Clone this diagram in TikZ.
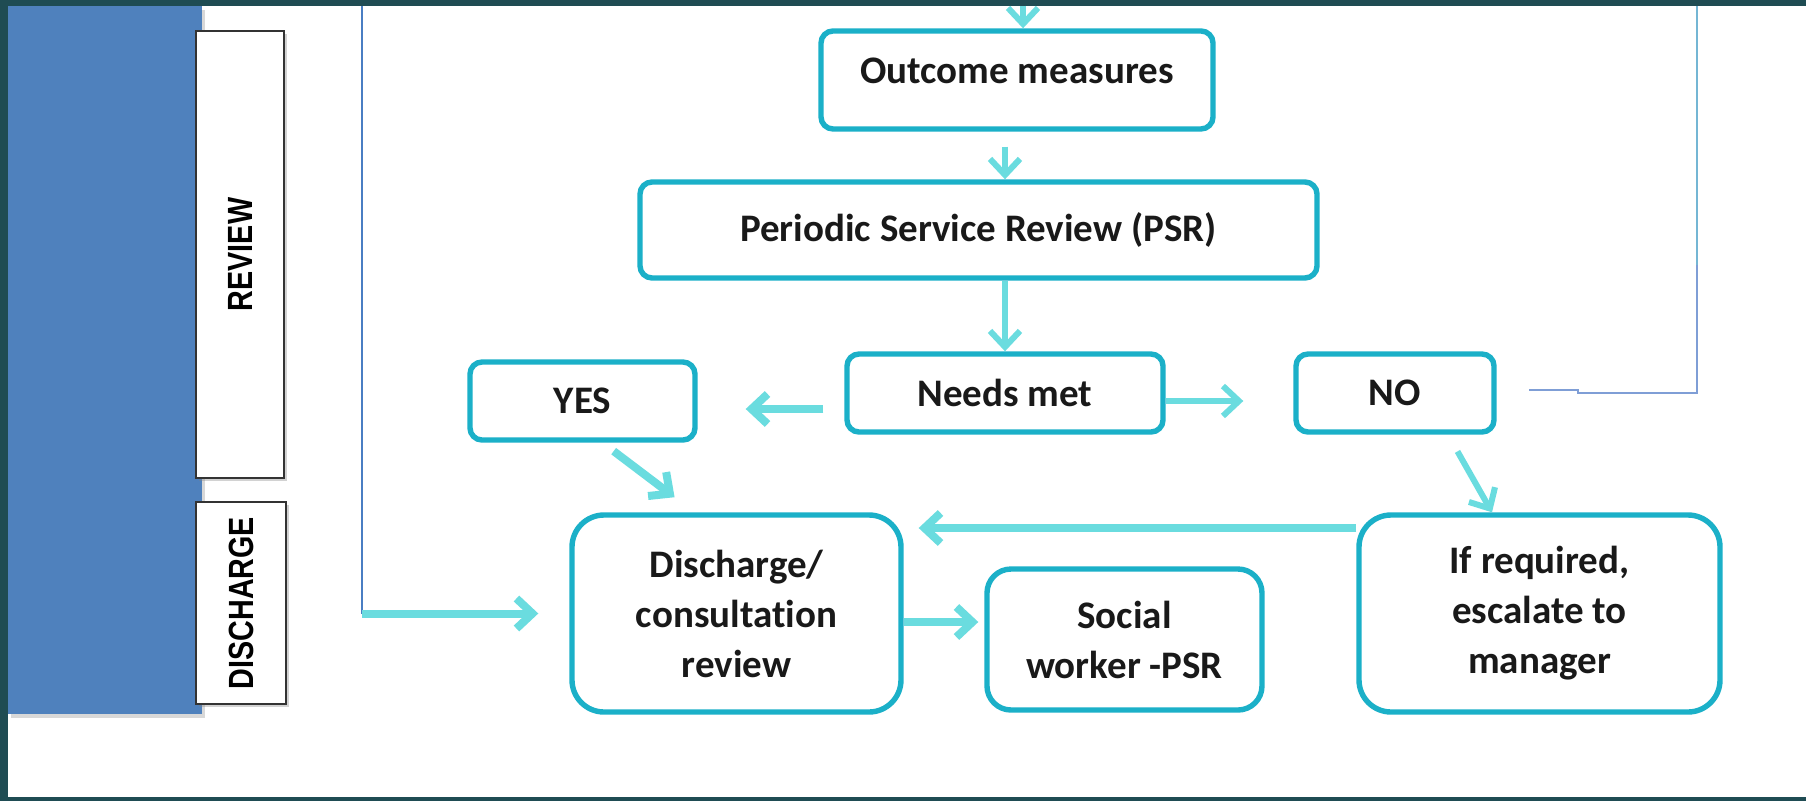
\documentclass[tikz,border=0pt]{standalone}
\usepackage{fontspec}
\setmainfont{Carlito}[Ligatures=NoCommon]
\newfontfamily\lanefont[FakeStretch=0.82]{Liberation Sans}
\usetikzlibrary{arrows.meta,shadows}

\definecolor{slidedark}{HTML}{1F4C53}
\definecolor{slidemid}{HTML}{2F6563}
\definecolor{panelblue}{HTML}{4F81BD}
\definecolor{boxcyan}{HTML}{1BB0C8}
\definecolor{arrowcyan}{HTML}{6ADCDF}
\definecolor{linkblue}{HTML}{4A7EC3}
\definecolor{linkpale}{HTML}{74B6D4}
\definecolor{linklow}{HTML}{7F9ED6}

\tikzset{
  flowbox/.style={draw=boxcyan, line width=2.7pt, fill=white, rounded corners=6pt,
    align=center, inner sep=0pt, text=black!90,
    font=\bfseries\fontsize{19.5}{25}\selectfont},
  bigbox/.style={flowbox, rounded corners=16pt},
  lanebox/.style={draw=black!80, line width=1pt, fill=white, inner sep=0pt,
    drop shadow={shadow xshift=1.5pt, shadow yshift=-1.5pt, opacity=0.35},
    font=\lanefont\bfseries\fontsize{17.5}{20}\selectfont},
  flow/.style={draw=arrowcyan, line width=3pt, -{Straight Barb[length=8pt,width=15pt]}},
  heavy/.style={line width=4pt},
  thinlink/.style={draw=linkblue, line width=1pt},
}

\begin{document}
\begin{tikzpicture}[x=1pt,y=1pt]
  \useasboundingbox (0,0) rectangle (903,-400.5);
  % slide background and page
  \shade[left color=slidedark, middle color=slidemid, right color=slidedark] (0,0) rectangle (903,-400.5);
  \fill[white] (4,-3) rectangle (903,-398.5);
  \coordinate (pagetop) at (0,-3);

  % side panel with the stage labels
  \fill[panelblue, drop shadow={shadow xshift=1.5pt, shadow yshift=-2pt, opacity=0.3}] (4,-3) rectangle (101,-357);
  \node[lanebox, minimum width=44pt, minimum height=223.5pt] (review) at (120,-127.25) {\rotatebox{90}{REVIEW}};
  \node[lanebox, minimum width=45pt, minimum height=101pt] (dischlbl) at (120.5,-301.5) {\rotatebox{90}{DISCHARGE}};

  % boxes
  \node[flowbox, minimum width=196pt, minimum height=49pt, text depth=9pt] (outcome) at (508.5,-40) {Outcome measures};
  \node[flowbox, below of=outcome, xshift=-19.25pt, yshift=-46.55pt, minimum width=338.5pt, minimum height=48pt] (psr) {Periodic Service Review (PSR)};
  \node[flowbox, below of=psr, xshift=13.25pt, yshift=-53.05pt, minimum width=158pt, minimum height=39pt] (needs) {Needs met};
  \node[flowbox, left of=needs, xshift=-182.8pt, yshift=-4pt, minimum width=112.5pt, minimum height=39pt] (yes) {YES};
  \node[flowbox, right of=needs, xshift=166.55pt, minimum width=99pt, minimum height=39pt] (no) {NO};
  \node[bigbox, below of=yes, xshift=77pt, yshift=-77.8pt, minimum width=164.5pt, minimum height=98.5pt] (disch) {Discharge/\\consultation\\review};
  \node[bigbox, right of=disch, xshift=165.55pt, yshift=-13pt, rounded corners=12pt, minimum width=137.5pt, minimum height=70.5pt] (social) {Social\\worker -PSR};
  \node[bigbox, below of=no, xshift=72.25pt, yshift=-81.8pt, minimum width=180.5pt, minimum height=98.5pt] (esc) {If required,\\escalate to\\manager};

  % arrows
  \coordinate (intop) at ([xshift=3pt]outcome.north);
  \draw[flow] (intop |- pagetop) -- (intop);
  \draw[flow, shorten <=7.5pt] (outcome.south -| needs.north) -- (psr.north -| needs.north);
  \draw[flow] (psr.south -| needs.north) -- (needs.north);

  \coordinate (nw) at ([yshift=-8pt]needs.west);
  \coordinate (ne) at ([yshift=-4pt]needs.east);
  \draw[flow, heavy, shorten <=10.5pt, shorten >=24pt] (nw) -- (nw -| yes.east);
  \draw[flow, shorten >=25pt] (ne) -- (ne -| no.west);

  \draw[flow, heavy, shorten <=7pt, shorten >=12.5pt] ([xshift=10pt]yes.south) -- ([xshift=-21pt]disch.north);
  \draw[flow, shorten <=9.6pt] ([xshift=26.5pt]no.south) -- ([xshift=-23.75pt]esc.north);

  \coordinate (ew) at ([yshift=42.75pt]esc.west);
  \coordinate (de) at ([yshift=-4.25pt]disch.east);
  \draw[flow, heavy, shorten >=7.5pt] (ew) -- (ew -| disch.east);
  \draw[flow, heavy, shorten >=3pt] (de) -- (de -| social.west);

  % long return lines
  \coordinate (ltop) at (181,-3);
  \coordinate (lbend) at (ltop |- disch.west);
  \draw[thinlink] (ltop) -- (lbend);
  \draw[flow, heavy, shorten >=15.5pt] (lbend) -- (disch.west);

  \coordinate (rtop) at (848.5,-3);
  \coordinate (rmid) at (848.5,-132.5);
  \coordinate (rbend) at (rtop |- no.east);
  \coordinate (nostep) at ([xshift=16pt,yshift=1.5pt]no.east);
  \draw[draw=linkpale, line width=1pt] (rtop) -- (rmid);
  \draw[draw=linklow, line width=1pt] (rmid) -- (rbend) -- ++(-59.5,0) -- ++(0,1.5) -- (nostep);
\end{tikzpicture}
\end{document}
